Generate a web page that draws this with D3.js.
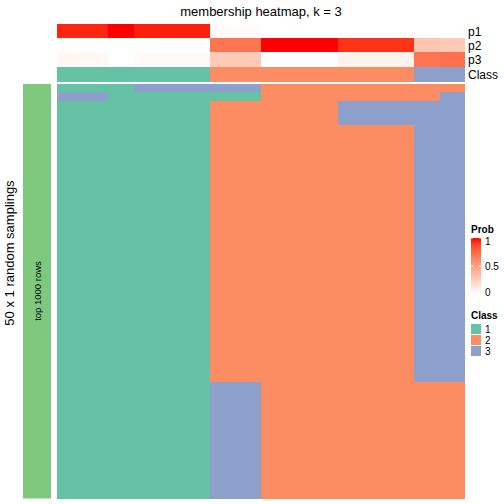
<!DOCTYPE html>
<html><head><meta charset="utf-8">
<script src="https://cdn.jsdelivr.net/npm/d3@7"></script>
<style>body{margin:0;background:#fff}svg{display:block;font-family:"Liberation Sans",Arial,sans-serif}</style>
</head><body>
<script>
// ---- data ----
const samples = d3.range(16).map(i => "s" + (i + 1));
const p1 = [0.96,0.96,1.00,0.97,0.97,0.97,0.02,0.02,0.00,0.00,0.00,0.00,0.00,0.00,0.00,0.00];
const p2 = [0.00,0.00,0.00,0.00,0.00,0.00,0.70,0.70,1.00,1.00,1.00,0.93,0.93,0.93,0.30,0.28];
const p3 = [0.04,0.04,0.00,0.03,0.03,0.03,0.28,0.28,0.00,0.00,0.00,0.07,0.07,0.07,0.70,0.72];
const sampleClass = [1,1,1,1,1,1,2,2,2,2,2,2,2,2,3,3];
// membership row patterns (class per sample) and how many samplings share each
const rowPatterns = [
  [1,1,1,3,3,3,3,3,2,2,2,2,2,2,2,2],
  [3,3,1,1,1,1,1,1,2,2,2,2,2,2,2,3],
  [1,1,1,1,1,1,2,2,2,2,2,3,3,3,3,3],
  [1,1,1,1,1,1,2,2,2,2,2,2,2,2,3,3],
  [1,1,1,1,1,1,3,3,2,2,2,2,2,2,2,2]
];
const rowCounts = [1, 1, 3, 31, 14];
const classLevels = [1, 2, 3];
const probTicks = [0, 0.5, 1];

// ---- build ----
const rows = [];
rowPatterns.forEach((p, i) => { for (let k = 0; k < rowCounts[i]; k++) rows.push(p); });

const W = 504, H = 504;
const svg = d3.select("body").append("svg").attr("width", W).attr("height", H);

const x = d3.scaleBand().domain(samples).range([57, 465]);
const y = d3.scaleBand().domain(d3.range(rows.length)).range([84, 498.5]);
const classColor = d3.scaleOrdinal().domain(classLevels).range(["#66C2A5", "#FC8D62", "#8DA0CB"]);
const probColor = d3.scaleLinear().domain([0, 1]).range(["#FFFFFF", "#FF0000"]).interpolate(d3.interpolateLab);

const defs = svg.append("defs");
defs.append("clipPath").attr("id", "hc").append("rect").attr("x", 57).attr("y", 0).attr("width", 408).attr("height", 504);

// title
svg.append("text").attr("x", 261).attr("y", 16).attr("text-anchor", "middle")
  .attr("font-size", 13).text("membership heatmap, k = 3");

const cells = svg.append("g").attr("clip-path", "url(#hc)").attr("shape-rendering", "crispEdges");

// annotation rows
const annos = [["p1", p1, 24], ["p2", p2, 38], ["p3", p3, 52]];
annos.forEach(([name, vals, y0]) => {
  cells.append("g").selectAll("rect").data(vals).join("rect")
    .attr("x", (d, i) => x(samples[i])).attr("width", x.bandwidth() + 1)
    .attr("y", y0).attr("height", 14.5)
    .attr("fill", d => probColor(d));
  svg.append("text").attr("x", 468).attr("y", y0 + 11.5).attr("font-size", 12).text(name);
});
cells.append("g").selectAll("rect").data(sampleClass).join("rect")
  .attr("x", (d, i) => x(samples[i])).attr("width", x.bandwidth() + 1)
  .attr("y", 67.3).attr("height", 14.5)
  .attr("fill", d => classColor(d));
svg.append("text").attr("x", 468).attr("y", 79).attr("font-size", 12).text("Class");

// main heatmap
rows.forEach((r, ri) => {
  cells.append("g").selectAll("rect").data(r).join("rect")
    .attr("x", (d, i) => x(samples[i])).attr("width", x.bandwidth() + 1)
    .attr("y", y(ri)).attr("height", ri === rows.length - 1 ? y.bandwidth() : y.bandwidth() + 1)
    .attr("fill", d => classColor(d));
});

// left bar
svg.append("rect").attr("x", 23).attr("y", 84).attr("width", 28).attr("height", 414.5).attr("fill", "#7FC97F");
svg.append("text").attr("transform", "translate(40.5,291) rotate(-90)").attr("text-anchor", "middle")
  .attr("font-size", 9.5).text("top 1000 rows");
svg.append("text").attr("transform", "translate(14,253) rotate(-90)").attr("text-anchor", "middle")
  .attr("font-size", 13).text("50 x 1 random samplings");

// legends
const lx = 471;
svg.append("text").attr("x", lx).attr("y", 233).attr("font-size", 10).attr("font-weight", "bold").text("Prob");
const grad = defs.append("linearGradient").attr("id", "pg").attr("x1", 0).attr("x2", 0).attr("y1", 1).attr("y2", 0);
d3.range(0, 1.01, 0.1).forEach(t => grad.append("stop").attr("offset", t).attr("stop-color", probColor(t)));
const gy = d3.scaleLinear().domain([0, 1]).range([294, 238]);
svg.append("rect").attr("x", lx).attr("y", 238).attr("width", 10).attr("height", 56).attr("fill", "url(#pg)");
probTicks.forEach(t => {
  svg.append("line").attr("x1", lx).attr("x2", lx + 2).attr("y1", gy(t)).attr("y2", gy(t)).attr("stroke", "#fff").attr("stroke-width", 0.8);
  svg.append("line").attr("x1", lx + 8).attr("x2", lx + 10).attr("y1", gy(t)).attr("y2", gy(t)).attr("stroke", "#fff").attr("stroke-width", 0.8);
  svg.append("text").attr("x", lx + 14).attr("y", Math.max(Math.min(gy(t), 292), 241) + 3.5).attr("font-size", 10).text(t);
});
svg.append("text").attr("x", lx).attr("y", 319).attr("font-size", 10).attr("font-weight", "bold").text("Class");
classLevels.forEach((c, i) => {
  svg.append("rect").attr("x", lx).attr("y", 324 + i * 11).attr("width", 10).attr("height", 10).attr("fill", classColor(c));
  svg.append("text").attr("x", lx + 14).attr("y", 332.5 + i * 11).attr("font-size", 10).text(c);
});
</script>
</body></html>
